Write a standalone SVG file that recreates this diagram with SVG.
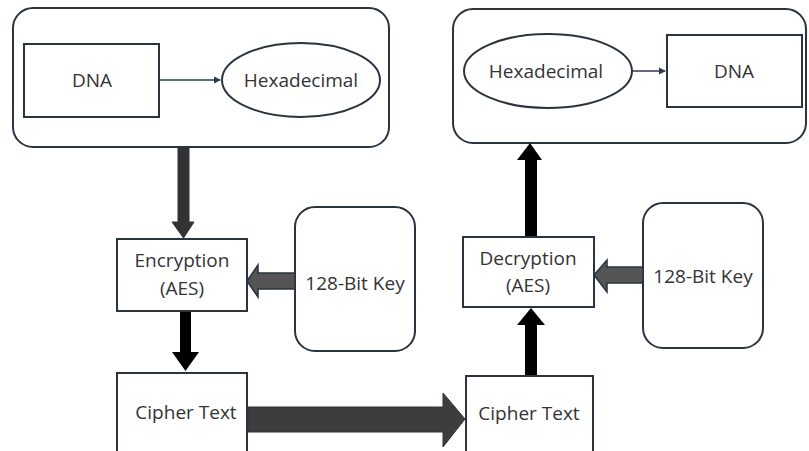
<svg xmlns="http://www.w3.org/2000/svg" width="809" height="451" viewBox="0 0 809 451">
<style>
.box{fill:#fff;stroke:#2b3340;stroke-width:2}
.t{font-family:"Open Sans","Noto Sans",sans-serif;font-size:19px;fill:#333;text-anchor:middle;dominant-baseline:central}
.thin{stroke:#2b3a5a;stroke-width:1.5;fill:none}
</style>
<defs>
<marker id="ah" markerWidth="8" markerHeight="8" refX="6" refY="4" orient="auto" markerUnits="userSpaceOnUse">
<path d="M0,0.5 L7,4 L0,7.5 z" fill="#2b3a5a"/>
</marker>
</defs>
<rect width="809" height="451" fill="#fff"/>
<g id="container-left"><rect class="box" x="13" y="8" width="376" height="139" rx="20"/></g>
<g id="container-right"><rect class="box" x="453" y="9" width="353" height="134" rx="20"/></g>
<g id="dna-left"><rect class="box" x="24" y="44" width="135" height="73"/><text class="t" x="92" y="80">DNA</text></g>
<g id="hex-left"><ellipse class="box" cx="301" cy="80" rx="79" ry="37"/><text class="t" x="301" y="80">Hexadecimal</text></g>
<g id="hex-right"><ellipse class="box" cx="548" cy="71" rx="84" ry="37"/><text class="t" x="546" y="71">Hexadecimal</text></g>
<g id="dna-right"><rect class="box" x="667" y="35" width="135" height="72"/><text class="t" x="734" y="71">DNA</text></g>
<g id="encryption"><rect class="box" x="117" y="239" width="130" height="72"/><text class="t" x="182" y="260">Encryption</text><text class="t" x="182" y="288">(AES)</text></g>
<g id="key-left"><rect class="box" x="295" y="207" width="120" height="144" rx="20"/><text class="t" x="355" y="283">128-Bit Key</text></g>
<g id="cipher-left"><rect class="box" x="117" y="373" width="130" height="80"/><text class="t" x="186" y="412">Cipher Text</text></g>
<g id="cipher-right"><rect class="box" x="466" y="376" width="127" height="77"/><text class="t" x="529" y="413">Cipher Text</text></g>
<g id="decryption"><rect class="box" x="463" y="237" width="131" height="70"/><text class="t" x="528" y="258">Decryption</text><text class="t" x="528" y="285">(AES)</text></g>
<g id="key-right"><rect class="box" x="643" y="203" width="120" height="145" rx="20"/><text class="t" x="703" y="276">128-Bit Key</text></g>
<g id="connectors">
<line class="thin" x1="159" y1="80" x2="220" y2="80" marker-end="url(#ah)"/>
<line class="thin" x1="632" y1="71" x2="665" y2="71" marker-end="url(#ah)"/>
<path d="M178,148 H189 V222 H194 L183.5,238 L172,222 H178 Z" fill="#333" stroke="#2b3340" stroke-width="1"/>
<path d="M295,273 V289 H258 V297 L247,281 L258,265 V273 Z" fill="#555" stroke="#2b3340" stroke-width="1.5"/>
<path d="M180,312 H191 V352 H199 L185.5,371 L172,352 H180 Z" fill="#000"/>
<path d="M248,407 H443 V393 L465,419 L443,447 V432 H248 Z" fill="#3d3d3d" stroke="#2b3340" stroke-width="1"/>
<path d="M525,375 V325 H517 L531,308 L545,325 H537 V375 Z" fill="#000"/>
<path d="M643,267 V283 H607 V292 L594,275 L607,260 V267 Z" fill="#555" stroke="#2b3340" stroke-width="1.5"/>
<path d="M525,236 V160 H517 L530,143 L542,160 H537 V236 Z" fill="#000"/>
</g>
</svg>
